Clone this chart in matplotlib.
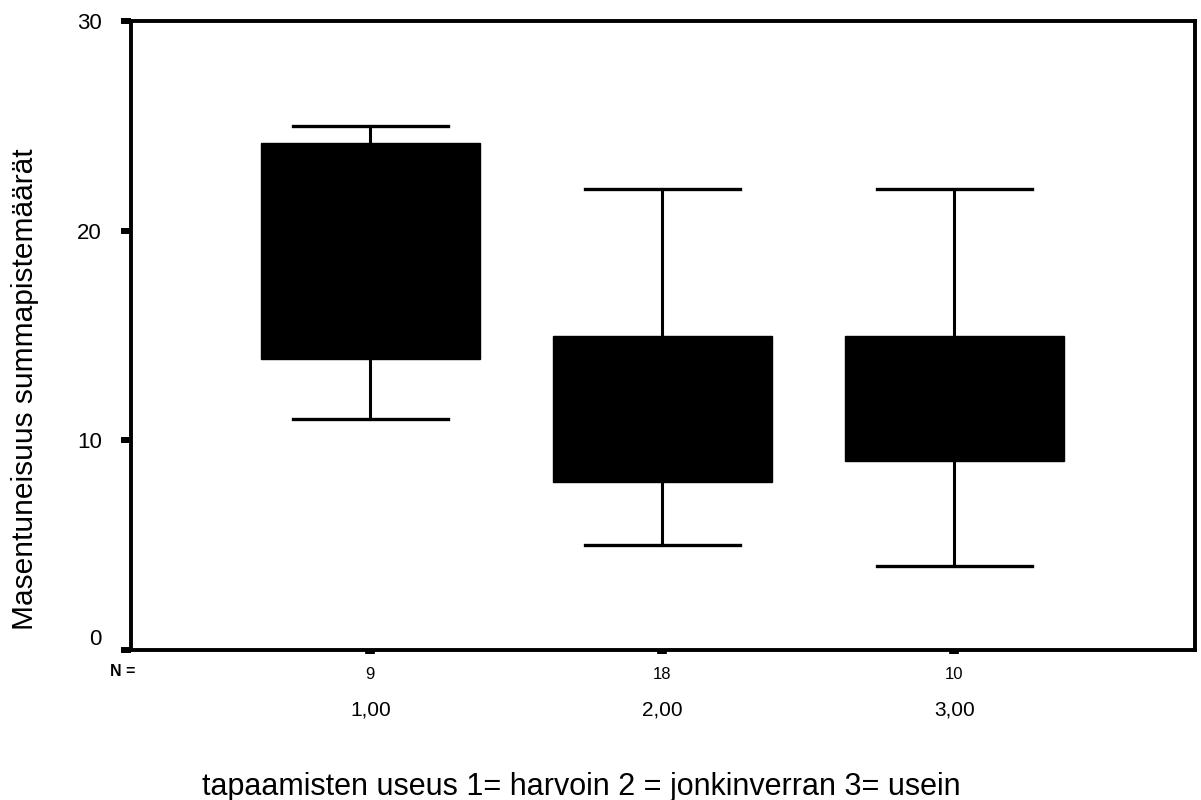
import matplotlib.pyplot as plt

plt.rcParams['font.family'] = ['Liberation Sans', 'DejaVu Sans']

# values
groups = ["1,00", "2,00", "3,00"]
counts = [9, 18, 10]
whisker_low = [11, 5, 4]
q1 = [13.9, 8, 9]
median = [20, 11, 12]   # hidden inside the filled boxes
q3 = [24.2, 15, 15]
whisker_high = [25, 22, 22]

stats = []
for i in range(len(groups)):
    stats.append({"label": groups[i], "whislo": whisker_low[i], "q1": q1[i],
                  "med": median[i], "q3": q3[i], "whishi": whisker_high[i],
                  "fliers": []})

W, H = 1201, 800
fig = plt.figure(figsize=(W / 100, H / 100), dpi=100)
ax = fig.add_axes([131 / W, 1 - 650 / H, (1195 - 131) / W, (650 - 21) / H])

positions = [1, 2, 3]
ax.bxp(stats, positions=positions, widths=0.75, patch_artist=True,
       showfliers=False,
       boxprops=dict(facecolor="black", edgecolor="black", linewidth=1),
       whiskerprops=dict(color="black", linewidth=2.2),
       capprops=dict(color="black", linewidth=2.4),
       medianprops=dict(color="black", linewidth=1),
       capwidths=0.53)

ax.set_xlim(0.18, 3.825)
ax.set_ylim(0, 30)
ax.set_yticks([0, 10, 20, 30])
ax.set_yticklabels(["0", "10", "20", "30"], fontsize=16)
ax.get_yticklabels()[0].set_verticalalignment("bottom")
ax.tick_params(axis="y", direction="out", length=7, width=4.3, pad=14)
ax.set_xticks(positions)
ax.set_xticklabels([str(n) for n in counts], fontsize=12)
ax.tick_params(axis="x", direction="out", length=3, width=7, pad=9)

for s in ax.spines.values():
    s.set_linewidth(2.8)

fig.text(25 / W, 1 - 389 / H, "Masentuneisuus summapistemäärät",
         fontsize=21.5, rotation=90, ha="center", va="center")

fig.text(123 / W, 1 - 672 / H, "N =", fontsize=11.5, fontweight="bold",
         ha="center", va="center")
for p, g in zip(positions, groups):
    xd = ax.transData.transform((p, 0))[0]
    fig.text(xd / W, 1 - 710 / H, g, fontsize=15, ha="center", va="center")

fig.text(202 / W, 1 - 795 / H,
         "tapaamisten useus 1= harvoin 2 = jonkinverran 3= usein",
         fontsize=22, ha="left", va="baseline")

fig.savefig("out.png", dpi=100)
